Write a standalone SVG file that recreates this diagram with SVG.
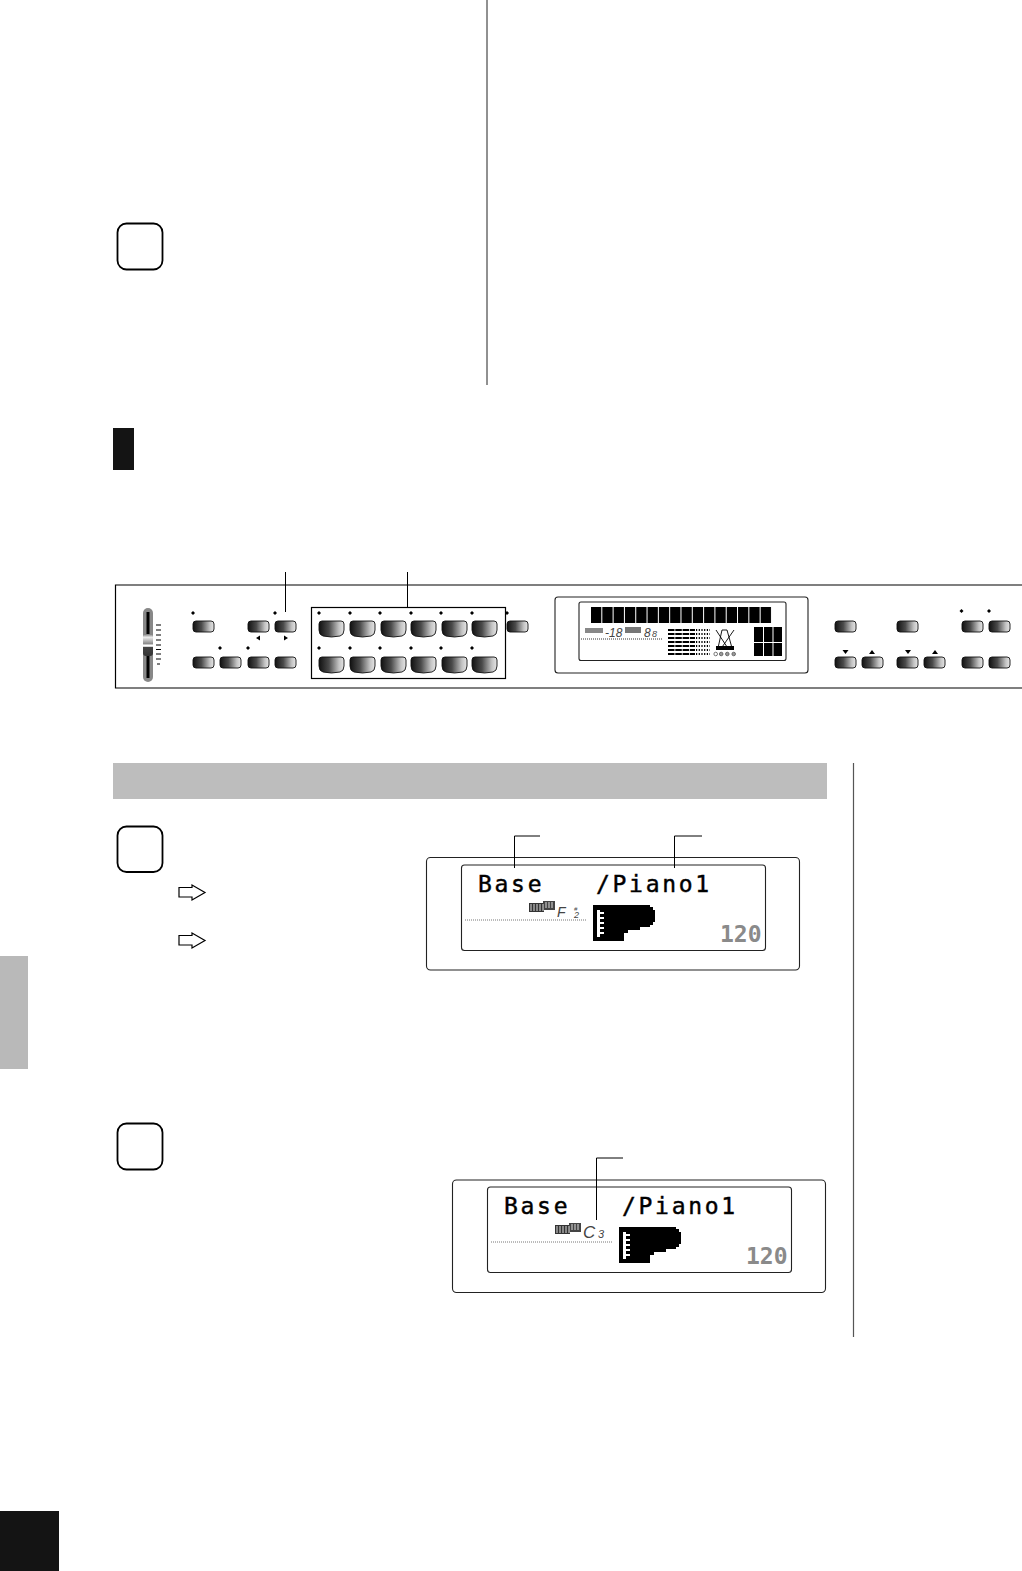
<svg xmlns="http://www.w3.org/2000/svg" width="1022" height="1571" viewBox="0 0 1022 1571">
<style>
.ln{fill:none;stroke:#000;stroke-width:1.2}
.lead{fill:none;stroke:#000;stroke-width:1}
.step{fill:#fff;stroke:#000;stroke-width:1.8}
.frame{fill:#fff;stroke:#222;stroke-width:1.1}
.lcd{fill:#000;stroke:#000;stroke-width:.45;font-family:"DejaVu Sans Mono","Liberation Mono",monospace;font-size:23px;letter-spacing:2.7px}
.tempo{fill:#8a8a8a;font-family:"DejaVu Sans Mono","Liberation Mono",monospace;font-size:23px;font-weight:bold}
.note{fill:#444;font-family:"Liberation Sans",sans-serif;font-style:italic}
.dots{stroke:#777;stroke-width:1;stroke-dasharray:1 1;fill:none}
.btn{stroke:#111;stroke-width:.9}
</style>
<defs>
<linearGradient id="bg"><stop offset="0" stop-color="#111"/><stop offset=".4" stop-color="#4a4a4a"/><stop offset=".8" stop-color="#c4c4c4"/><stop offset="1" stop-color="#e6e6e6"/></linearGradient>
<linearGradient id="kg" x1="0" y1="0" x2="0" y2="1"><stop offset="0" stop-color="#777"/><stop offset=".15" stop-color="#eee"/><stop offset=".45" stop-color="#888"/><stop offset=".5" stop-color="#fff"/><stop offset=".56" stop-color="#fff"/><stop offset=".6" stop-color="#444"/><stop offset="1" stop-color="#333"/></linearGradient>
<rect id="sb" width="21" height="11" rx="3" fill="url(#bg)" class="btn"/>
<path id="lb" d="M3,0H22Q25,0 25,3V9Q25,14 21,15Q12.500,17 4,15Q0,14 0,9V3Q0,0 3,0Z" fill="url(#bg)" class="btn"/>
<path id="dot" d="M0,-2L2,0 0,2 -2,0Z" fill="#000"/>
<g id="piano">
<path d="M0,0H57V2H60V5H62V17H60V20H57V22H47V25H35V28H31V36H0Z" fill="#000"/>
<path d="M4,5H7V32H4ZM7,7H11V9H7ZM7,12H11V14H7ZM7,17H11V19H7ZM7,22H11V24H7ZM7,27H11V29H7Z" fill="#fff"/>
</g>
<g id="keys">
<rect y="2" width="15" height="9" fill="#333"/>
<rect x="14" width="12" height="9" fill="#444"/>
<path d="M2,3V10M5,3V10M8,3V10M11,3V10M14,3V10M17,1V7M20,1V7M23,1V7" stroke="#ddd" stroke-width="1" fill="none"/>
</g>
</defs>
<rect width="1022" height="1571" fill="#fff"/>

<g id="page">
<line x1="487" y1="0" x2="487" y2="385" stroke="#222" stroke-width="1"/>
<rect x="113" y="428" width="21" height="42" fill="#141414"/>
<rect x="113" y="763" width="714" height="36" fill="#bdbdbd"/>
<line x1="853.500" y1="763" x2="853.500" y2="1337" stroke="#555" stroke-width="1.2"/>
<rect x="0" y="956" width="28" height="113" fill="#b9b9b9"/>
<rect x="0" y="1511" width="59" height="60" fill="#141414"/>
</g>

<g id="step-1"><rect class="step" x="117.500" y="223.500" width="45" height="46" rx="9"/></g>
<g id="step-2"><rect class="step" x="117.500" y="826.500" width="45" height="45.500" rx="9"/></g>
<g id="step-3"><rect class="step" x="117.500" y="1123.500" width="45" height="46" rx="9"/></g>
<g id="arrow-1"><path class="ln" d="M179,887.500H192V885L205,892.500 192,900V897H179Z"/></g>
<g id="arrow-2"><path class="ln" d="M179,935.500H192V933L205,940.500 192,948V945H179Z"/></g>

<g id="panel">
<path d="M1022,585H115.500V688H1022" fill="#fff" stroke="#000" stroke-width="1.2"/>
<g id="slider">
<rect x="143" y="608" width="10" height="74" rx="5" fill="#888"/>
<line x1="148" y1="612" x2="148" y2="678" stroke="#000" stroke-width="3"/>
<rect x="143" y="634" width="10" height="22" rx="3" fill="url(#kg)"/>
<path d="M156,625H161M156,630H161M156,635H161M156,640H161M156,645H161M156,649.500H161M156,654H161M156,659H161M157,664H160" stroke="#000" stroke-width="1.1"/>
</g>
<g id="left-buttons">
<use href="#sb" x="193" y="621"/><use href="#sb" x="248" y="621"/><use href="#sb" x="275" y="621"/><use href="#sb" x="507" y="621"/>
<use href="#sb" x="193" y="657"/><use href="#sb" x="220" y="657"/><use href="#sb" x="248" y="657"/><use href="#sb" x="275" y="657"/>
<use href="#dot" x="193" y="613"/><use href="#dot" x="275" y="613"/><use href="#dot" x="507" y="613"/><use href="#dot" x="220" y="648"/><use href="#dot" x="248" y="648"/>
<path d="M256,638L260,635.500V640.500ZM288,638L284,635.500V640.500Z" fill="#000"/>
</g>
<g id="voice-buttons">
<rect x="311.500" y="607.500" width="194" height="71" fill="none" stroke="#000" stroke-width="1.200"/>
<use href="#lb" x="319" y="621"/><use href="#lb" x="350" y="621"/><use href="#lb" x="381" y="621"/><use href="#lb" x="411" y="621"/><use href="#lb" x="442" y="621"/><use href="#lb" x="472" y="621"/>
<use href="#lb" x="319" y="657"/><use href="#lb" x="350" y="657"/><use href="#lb" x="381" y="657"/><use href="#lb" x="411" y="657"/><use href="#lb" x="442" y="657"/><use href="#lb" x="472" y="657"/>
<use href="#dot" x="319" y="613"/><use href="#dot" x="350" y="613"/><use href="#dot" x="380" y="613"/><use href="#dot" x="411" y="613"/><use href="#dot" x="441" y="613"/><use href="#dot" x="472" y="613"/>
<use href="#dot" x="319" y="648"/><use href="#dot" x="350" y="648"/><use href="#dot" x="380" y="648"/><use href="#dot" x="411" y="648"/><use href="#dot" x="441" y="648"/><use href="#dot" x="472" y="648"/>
</g>
<g id="panel-display">
<rect class="frame" x="555" y="597" width="253" height="76" rx="3"/>
<rect class="frame" x="579" y="602" width="207" height="58.500" rx="2"/>
<line x1="591" y1="615" x2="772" y2="615" stroke="#000" stroke-width="16" stroke-dasharray="10.300 1.010"/>
<rect x="585" y="628" width="18" height="5" fill="#888"/>
<text class="note" x="605" y="637" font-size="12">-18</text>
<rect x="625" y="627" width="16" height="6" fill="#777"/>
<text class="note" x="644" y="637" font-size="12">8</text>
<text class="note" x="652" y="637" font-size="9">8</text>
<line x1="581" y1="639" x2="663" y2="639" stroke="#333" stroke-dasharray="1 1"/>
<path d="M668,630H695M668,634H695M668,638H695M668,642H695M668,646H695M668,650H695M668,654H695" stroke="#000" stroke-width="2" stroke-dasharray="6.500 .8"/>
<path d="M696,630H710M696,634H710M696,638H710M696,642H710M696,646H710M696,650H710M696,654H710" stroke="#000" stroke-width="2" stroke-dasharray="1.200 1.500"/>
<path d="M718,648L722,630H727L732,648ZM716,630L729,650M734,630L720,650" fill="none" stroke="#000" stroke-width=".9"/>
<rect x="716" y="646" width="18" height="4" fill="#000"/>
<g fill="#fff" stroke="#555" stroke-width=".8"><circle cx="715.700" cy="654" r="1.800"/><circle cx="721.200" cy="654" r="1.800" fill="#999"/><circle cx="727.300" cy="654" r="1.800" fill="#999"/><circle cx="733.700" cy="654" r="1.800" fill="#999"/></g>
<path d="M754,627H763V642H754ZM764,627H772.500V642H764ZM773.500,627H782V642H773.500ZM754,643H763V656H754ZM764,643H772.500V656H764ZM773.500,643H782V656H773.500Z" fill="#000"/>
</g>
<g id="right-buttons">
<use href="#sb" x="835" y="621"/><use href="#sb" x="897" y="621"/><use href="#sb" x="962" y="621"/><use href="#sb" x="989" y="621"/>
<use href="#sb" x="835" y="657"/><use href="#sb" x="862" y="657"/><use href="#sb" x="897" y="657"/><use href="#sb" x="924" y="657"/><use href="#sb" x="962" y="657"/><use href="#sb" x="989" y="657"/>
<use href="#dot" x="961.500" y="611"/><use href="#dot" x="989" y="611"/>
<path d="M842.500,650H848.500L845.500,654ZM905,650H911L908,654ZM869,654H875L872,650ZM932,654H938L935,650Z" fill="#000"/>
</g>
</g>

<g id="display-1">
<rect class="frame" x="426.500" y="857.500" width="373" height="112.500" rx="4"/>
<rect class="frame" x="461.500" y="865" width="304" height="85.500" rx="3"/>
<text class="lcd" x="478" y="892">Base</text>
<text class="lcd" x="596" y="892">/Piano1</text>
<use href="#keys" x="529" y="901"/>
<text class="note" x="557" y="917" font-size="14">F</text>
<text class="note" x="574" y="911" font-size="6">#</text>
<text class="note" x="574" y="917.500" font-size="9">2</text>
<line x1="465" y1="920" x2="587" y2="920" class="dots"/>
<use href="#piano" x="593" y="905"/>
<text class="tempo" x="720" y="941.500">120</text>
</g>

<g id="display-2">
<rect class="frame" x="452.500" y="1180" width="373" height="112.500" rx="4"/>
<rect class="frame" x="487.500" y="1187" width="304" height="85.500" rx="3"/>
<text class="lcd" x="504" y="1214">Base</text>
<text class="lcd" x="622" y="1214">/Piano1</text>
<use href="#keys" x="555" y="1223"/>
<text class="note" x="583" y="1238" font-size="17">C</text>
<text class="note" x="598" y="1238" font-size="11">3</text>
<line x1="491" y1="1242" x2="613" y2="1242" class="dots"/>
<use href="#piano" x="619" y="1227"/>
<text class="tempo" x="746" y="1263.500">120</text>
</g>

<g id="connectors">
<path class="lead" d="M285.500,572V612"/>
<path class="lead" d="M407.500,572V607"/>
<path class="lead" d="M540,836H514.500V868"/>
<path class="lead" d="M702,836H674.500V868"/>
<path class="lead" d="M623,1158H596.500V1220"/>
</g>
</svg>
